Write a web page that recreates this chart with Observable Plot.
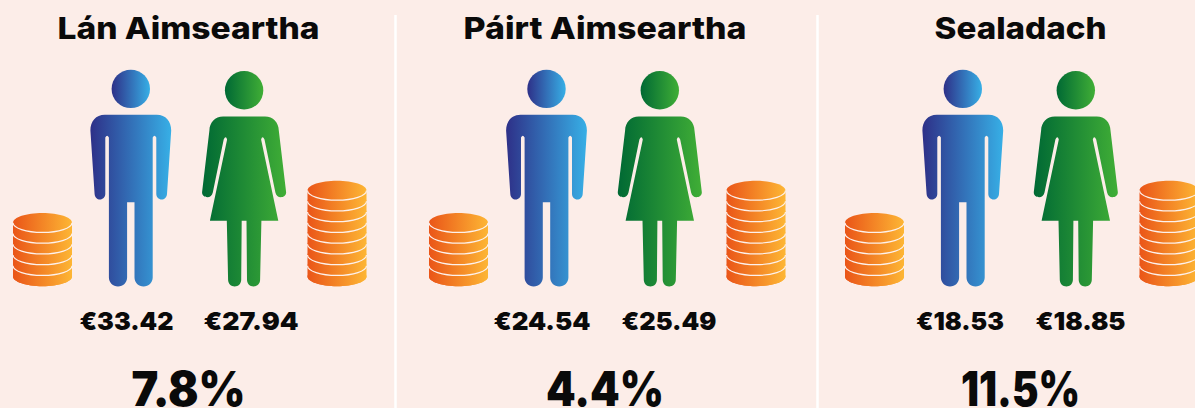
<!DOCTYPE html>
<html>
<head>
<meta charset="utf-8">
<script src="https://cdn.jsdelivr.net/npm/d3@7"></script>
<script src="https://cdn.jsdelivr.net/npm/@observablehq/plot@0.6"></script>
<style>
  html, body { margin: 0; padding: 0; background: #fcede8; overflow: hidden; }
  svg { display: block; }
</style>
</head>
<body>
<div id="chart"></div>
<script>
// Data
const categories = ["Lán Aimseartha", "Páirt Aimseartha", "Sealadach"];
const menPay = [33.42, 24.54, 18.53];
const womenPay = [27.94, 25.49, 18.85];
const payGap = [7.8, 4.4, 11.5];
const lowStackCoins = [6, 6, 6];
const highStackCoins = [9, 9, 9];

// Layout (separate from the data)
const W = 1195, H = 408;
const panelCentre = [188, 604.5, 1020];
const manX = [130.3, 546, 962.3];
const womanX = [243.6, 659.3, 1075.3];
const manLabelX = [126, 541.5, 959.5];
const womanLabelX = [250.5, 668.5, 1080];
const lowX = [42, 458, 874];
const highX = [336.5, 755.5, 1168.5];
const dividers = [395, 817];
const titleWidth = [262, 283, 172];
const manLabelWidth = [94, 97, 88];
const womanLabelWidth = [95, 95, 90];
const gapWidth = [114, 118, 119];
const coinBaseY = 276, coinStep = 10.75, coinRx = 29.5, coinRy = 9.7;
const BG = "#fcede8", INK = "#0a0a0a";

// Custom symbols
function ell(c, rx, ry, cy) {
  const k = 0.5523;
  c.moveTo(-rx, cy);
  c.bezierCurveTo(-rx, cy - k * ry, -k * rx, cy - ry, 0, cy - ry);
  c.bezierCurveTo(k * rx, cy - ry, rx, cy - k * ry, rx, cy);
}
const coinTop = {draw(c) {
  const k = 0.5523;
  ell(c, coinRx, coinRy, 0);
  c.bezierCurveTo(coinRx, k * coinRy, k * coinRx, coinRy, 0, coinRy);
  c.bezierCurveTo(-k * coinRx, coinRy, -coinRx, k * coinRy, -coinRx, 0);
  c.closePath();
}};
const coinBody = {draw(c) {
  const k = 0.5523;
  ell(c, coinRx, coinRy, 0);
  c.lineTo(coinRx, coinStep);
  c.bezierCurveTo(coinRx, coinStep + k * coinRy, k * coinRx, coinStep + coinRy, 0, coinStep + coinRy);
  c.bezierCurveTo(-k * coinRx, coinStep + coinRy, -coinRx, coinStep + k * coinRy, -coinRx, coinStep);
  c.closePath();
}};
const coinArc = {draw(c) {
  const k = 0.5523;
  c.moveTo(coinRx, 0);
  c.bezierCurveTo(coinRx, k * coinRy, k * coinRx, coinRy, 0, coinRy);
  c.bezierCurveTo(-k * coinRx, coinRy, -coinRx, k * coinRy, -coinRx, 0);
}};
const head = {draw(c) { c.arc(0, 0, 19.2, 0, 2 * Math.PI); c.closePath(); }};
const manBody = {draw(c) {
  c.moveTo(-26, -85.7);
  c.lineTo(26, -85.7);
  c.bezierCurveTo(35, -85.7, 40.4, -79, 40.4, -70);
  c.lineTo(36.2, -6.5);
  c.bezierCurveTo(36, -3, 33.5, -1, 30.8, -1);
  c.bezierCurveTo(28, -1, 25.5, -3.5, 25.5, -6.5);
  c.lineTo(25.5, -63);
  c.quadraticCurveTo(23.7, -66.5, 21.9, -63);
  c.lineTo(21.9, 77);
  c.bezierCurveTo(21.9, 82, 17.8, 86, 12.8, 86);
  c.bezierCurveTo(7.7, 86, 3.7, 82, 3.7, 77);
  c.lineTo(3.7, 1.7);
  c.lineTo(-3.7, 1.7);
  c.lineTo(-3.7, 77);
  c.bezierCurveTo(-3.7, 82, -7.7, 86, -12.8, 86);
  c.bezierCurveTo(-17.8, 86, -21.9, 82, -21.9, 77);
  c.lineTo(-21.9, -63);
  c.quadraticCurveTo(-23.7, -66.5, -25.5, -63);
  c.lineTo(-25.5, -6.5);
  c.bezierCurveTo(-25.5, -3.5, -28, -1, -30.8, -1);
  c.bezierCurveTo(-33.5, -1, -36, -3, -36.2, -6.5);
  c.lineTo(-40.4, -70);
  c.bezierCurveTo(-40.4, -79, -35, -85.7, -26, -85.7);
  c.closePath();
}};
const womanBody = {draw(c) {
  c.moveTo(-21, -84);
  c.lineTo(21, -84);
  c.bezierCurveTo(29, -84, 34.5, -78, 34.7, -70);
  c.lineTo(42, -8.5);
  c.bezierCurveTo(42.3, -5, 39.5, -3.3, 36.7, -3.3);
  c.bezierCurveTo(34, -3.3, 32, -5, 31.3, -8);
  c.lineTo(20.4, -61);
  c.quadraticCurveTo(18.3, -65.5, 17, -61);
  c.lineTo(34.2, 20.3);
  c.lineTo(17.3, 20.3);
  c.lineTo(16, 79.5);
  c.bezierCurveTo(15.9, 83.2, 13, 86, 9.4, 86);
  c.bezierCurveTo(5.8, 86, 3, 83.2, 2.9, 79.5);
  c.lineTo(2.4, 20.3);
  c.lineTo(-2.4, 20.3);
  c.lineTo(-2.9, 79.5);
  c.bezierCurveTo(-3, 83.2, -5.8, 86, -9.4, 86);
  c.bezierCurveTo(-13, 86, -15.9, 83.2, -16, 79.5);
  c.lineTo(-17.3, 20.3);
  c.lineTo(-34.2, 20.3);
  c.lineTo(-17, -61);
  c.quadraticCurveTo(-18.3, -65.5, -20.4, -61);
  c.lineTo(-31.3, -8);
  c.bezierCurveTo(-32, -5, -34, -3.3, -36.7, -3.3);
  c.bezierCurveTo(-39.5, -3.3, -42.3, -5, -42, -8.5);
  c.lineTo(-34.7, -70);
  c.bezierCurveTo(-34.5, -78, -29, -84, -21, -84);
  c.closePath();
}};

// Tables built from the arrays
const idx = d3.range(categories.length);
const euro = v => "€" + v.toFixed(2);
const coinRows = idx.flatMap(i => [[lowX[i], lowStackCoins[i]], [highX[i], highStackCoins[i]]])
  .flatMap(([x, n]) => d3.range(n).map(k => ({x, y: coinBaseY - k * coinStep, bottom: k === 0})));

const gradients = () => {
  const defs = d3.create("svg:defs");
  const add = (id, a, b) => {
    const g = defs.append("linearGradient").attr("id", id);
    g.append("stop").attr("offset", "0%").attr("stop-color", a);
    g.append("stop").attr("offset", "100%").attr("stop-color", b);
  };
  add("gMan", "#2e3088", "#37afe6");
  add("gWoman", "#006934", "#40ae36");
  add("gCoin", "#ea5518", "#fdb634");
  return defs.node();
};

// Fit each label to the width it has in the reference (no Montserrat available)
const fit = widths => (index, scales, values, dims, ctx, next) => {
  const g = next(index, scales, values, dims, ctx);
  d3.select(g).selectAll("text")
    .attr("textLength", i => widths[i])
    .attr("lengthAdjust", "spacingAndGlyphs");
  return g;
};

const textOpts = {textAnchor: "middle", lineAnchor: "middle", fill: INK,
  fontFamily: "Inter, 'Noto Sans', sans-serif"};

const plot = Plot.plot({
  width: W, height: H,
  margin: 0,
  style: {background: BG, overflow: "hidden"},
  x: {domain: [0, W], range: [0, W], axis: null},
  y: {domain: [0, H], range: [0, H], axis: null},
  marks: [
    gradients,
    Plot.ruleX(dividers, {x: d => d, y1: 15, y2: H, stroke: "#ffffff", strokeWidth: 2.5}),
    Plot.text(idx, {...textOpts, x: i => panelCentre[i], y: 29, text: i => categories[i], fontSize: 30, fontWeight: 800, render: fit(titleWidth)}),
    Plot.dot(coinRows.filter(d => d.bottom), {x: "x", y: "y", symbol: coinTop, fill: "url(#gCoin)"}),
    Plot.dot(coinRows.filter(d => !d.bottom), {x: "x", y: "y", symbol: coinBody, fill: "url(#gCoin)"}),
    Plot.dot(coinRows.filter(d => !d.bottom), {x: "x", y: "y", symbol: coinArc, fill: "none", stroke: "#fdf1ec", strokeWidth: 1.2}),
    Plot.dot(idx, {x: i => manX[i], y: 88.4, symbol: head, fill: "url(#gMan)"}),
    Plot.dot(idx, {x: i => manX[i], y: 200, symbol: manBody, fill: "url(#gMan)"}),
    Plot.dot(idx, {x: i => womanX[i], y: 89.8, symbol: head, fill: "url(#gWoman)"}),
    Plot.dot(idx, {x: i => womanX[i], y: 200, symbol: womanBody, fill: "url(#gWoman)"}),
    Plot.text(idx, {...textOpts, x: i => manLabelX[i], y: 321, text: i => euro(menPay[i]), fontSize: 25, fontWeight: 900, render: fit(manLabelWidth)}),
    Plot.text(idx, {...textOpts, x: i => womanLabelX[i], y: 321, text: i => euro(womenPay[i]), fontSize: 25, fontWeight: 900, render: fit(womanLabelWidth)}),
    Plot.text(idx, {...textOpts, x: i => panelCentre[i], y: 390, text: i => payGap[i].toFixed(1) + "%", fontSize: 48, fontWeight: 900, render: fit(gapWidth)})
  ]
});
document.getElementById("chart").appendChild(plot);
</script>
</body>
</html>
